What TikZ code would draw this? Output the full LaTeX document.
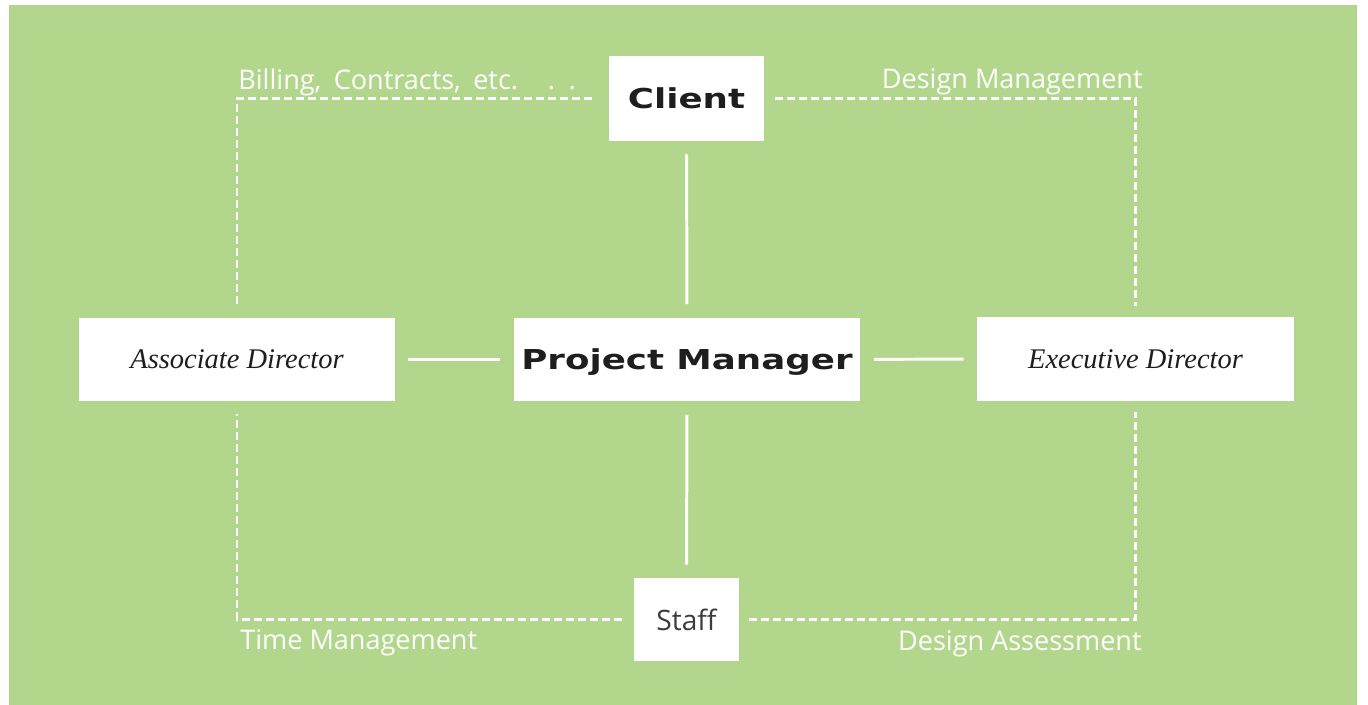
\documentclass[tikz,border=0pt]{standalone}
\usepackage{fontspec}
\usepackage{xcolor}
\usetikzlibrary{positioning}
\setmainfont{Open Sans}
\newfontfamily\widefont[FakeStretch=1.3]{DejaVu Sans}
\newfontfamily\italfont{Liberation Serif}
\definecolor{bggreen}{RGB}{178,214,140}
\definecolor{boxtext}{RGB}{30,30,30}
\definecolor{stafftext}{RGB}{60,60,60}
\tikzstyle{box} = [fill=white, inner sep=0pt, align=center, text=boxtext]
\tikzstyle{link} = [white, line width=1.7pt, shorten <=0.26cm, shorten >=0.26cm]
\tikzstyle{dashline} = [white, line width=1.2pt, dash pattern=on 0.16cm off 0.08cm]
\tikzstyle{sidetext} = [white, inner sep=0pt, font=\fontsize{15.4}{18}\selectfont]

\begin{document}
\begin{tikzpicture}[x=0.02cm, y=-0.02cm]
\useasboundingbox (0,0) rectangle (1368,705);
\fill[white] (0,0) rectangle (1368,705);
\fill[bggreen] (9,5) rectangle (1357,705);

% Boxes
\node[box, minimum width=3.1cm, minimum height=1.7cm, text depth=0pt, font=\widefont\bfseries\fontsize{15.6}{18}\selectfont] (client) at (686.5,98.5) {Client};
\node[box, minimum width=6.94cm, minimum height=1.68cm, text depth=0pt, font=\widefont\bfseries\fontsize{15.6}{18}\selectfont] (pm) at (687,359.5) {Project Manager};
\node[box, minimum width=6.32cm, minimum height=1.68cm, font=\italfont\itshape\fontsize{16.2}{18}\selectfont] (assoc) at (237,359.5) {Associate Director};
\node[box, minimum width=6.34cm, minimum height=1.7cm, font=\italfont\itshape\fontsize{16.2}{18}\selectfont] (exec) at (1135.5,359) {Executive Director};
\node[box, minimum width=2.1cm, minimum height=1.66cm, text=stafftext, font=\fontsize{16}{18}\selectfont] (staff) at (686.5,619.5) {Staff};

% Solid links
\draw[link] (client) -- (pm);
\draw[link] (pm) -- (staff);
\draw[link] (assoc) -- (pm);
\draw[link] (pm) -- (exec);

% Dashed links
\draw[dashline, shorten <=0.34cm, shorten >=0.2cm] (client.west) -| (assoc.north);
\draw[dashline, shorten <=0.22cm, shorten >=0.2cm] (client.east) -| (exec.north);
\draw[dashline, shorten <=0.24cm, shorten >=0.24cm] (staff.west) -| (assoc.south);
\draw[dashline, shorten <=0.2cm, shorten >=0.2cm] (staff.east) -| (exec.south);

% Labels
\node[sidetext, anchor=base west] (billing) at (238,90) {Billing,\hspace{0.2em} Contracts,\hspace{0.2em} etc.\hspace{1.1em}.\hspace{0.5em}.};
\node[sidetext, anchor=base east] (designmgmt) at (1143,89) {Design Management};
\node[sidetext, anchor=base west] (timemgmt) at (240,649) {Time Management};
\node[sidetext, anchor=base east] (designass) at (1142,650) {Design Assessment};
\end{tikzpicture}
\end{document}
